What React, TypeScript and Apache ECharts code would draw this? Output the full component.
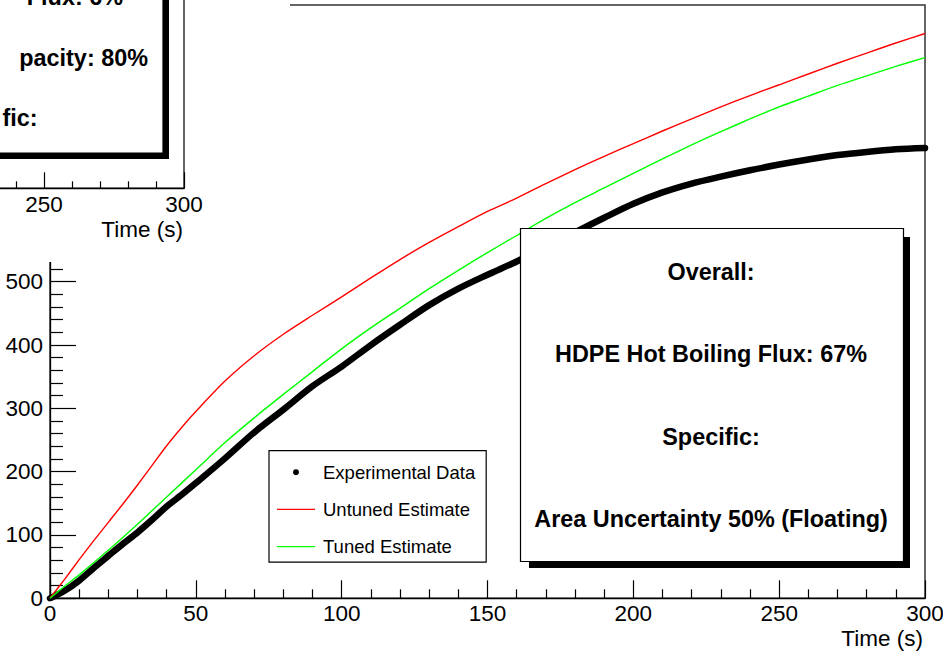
import React, { useEffect, useRef } from "react";
import * as echarts from "echarts";

// ---- data ----
const xTicksMain = [0, 50, 100, 150, 200, 250, 300];
const expTime = [0, 5, 10, 15, 20, 25, 30, 35, 40, 45, 50, 60, 70, 80, 90, 100, 110, 120, 130, 140, 150, 160, 170, 180, 190, 200, 210, 220, 230, 240, 250, 260, 270, 280, 290, 300];
const expValues = [0, 12, 28, 48, 67, 86, 104, 124, 145, 163, 182, 221, 262, 298, 335, 366, 400, 432, 463, 489, 511, 532, 555, 578, 601, 623, 641, 655, 666, 676, 685, 693, 700, 705, 709, 711];
const untunedTime = [0, 5, 10, 15, 20, 25, 30, 35, 40, 45, 50, 60, 70, 80, 90, 100, 110, 120, 130, 140, 150, 160, 170, 180, 190, 200, 210, 220, 230, 240, 250, 260, 270, 280, 290, 300];
const untunedValues = [0, 30, 61, 91, 120, 149, 179, 210, 241, 269, 295, 343, 383, 417, 447, 476, 506, 535, 562, 587, 611, 632, 655, 677, 698, 718, 738, 757, 776, 794, 811, 828, 845, 861, 877, 892];
const tunedTime = [0, 5, 10, 20, 30, 40, 50, 60, 70, 80, 90, 100, 110, 120, 130, 140, 150, 160, 170, 180, 190, 200, 210, 220, 230, 240, 250, 260, 270, 280, 290, 300];
const tunedValues = [0, 19, 37, 76, 117, 160, 203, 246, 285, 322, 358, 394, 427, 458, 489, 518, 546, 573, 600, 625, 648, 671, 694, 716, 737, 757, 776, 793, 810, 825, 840, 854];
const seriesNames = ["Experimental Data", "Untuned Estimate", "Tuned Estimate"];
const seriesColors = ["#000000", "#ff0000", "#00ff00"];
const mainBoxLines = ["Overall:", "HDPE Hot Boiling Flux: 67%", "Specific:", "Area Uncertainty 50% (Floating)"];
const insetBoxLines = ["Flux: 6%", "pacity: 80%", "fic:"];
const xAxisTitle = "Time (s)";
const yMax = 937;
const yLabelMax = 500;
const insetLabelMin = 250;

const FONT = "Liberation Sans";
const LINE_ICON = "path://M0,0H38V1.4H0Z";

const zip = (t: number[], v: number[]) => t.map((x, i) => [x, v[i]]);

export default function App() {
  const ref = useRef<HTMLDivElement>(null);
  useEffect(() => {
    const chart = echarts.init(ref.current!, null, { renderer: "svg" });
    const axisText = { fontFamily: FONT, fontSize: 22.5, color: "#000" };
    const boxText = (text: string, x: number, y: number, align: string, z: number) => ({
      type: "text",
      x,
      y,
      z,
      silent: true,
      style: {
        text,
        fill: "#000",
        fontFamily: FONT,
        fontWeight: "bold",
        fontSize: 23.4,
        textAlign: align,
        textVerticalAlign: "middle",
        align,
        verticalAlign: "middle",
      },
    });
    const option: any = {
      animation: false,
      backgroundColor: "#fff",
      grid: [
        {
          left: 50,
          right: 18,
          top: 5,
          bottom: 55.7,
          show: true,
          borderColor: "#333",
          borderWidth: 1.5,
          containLabel: false,
          outerBoundsMode: "none",
        },
        {
          left: -656,
          right: 759,
          top: -400,
          bottom: 465.7,
          show: true,
          borderColor: "#333",
          borderWidth: 1.5,
          containLabel: false,
          outerBoundsMode: "none",
          z: 60,
        },
      ],
      xAxis: [
        {
          type: "value",
          gridIndex: 0,
          min: xTicksMain[0],
          max: xTicksMain[xTicksMain.length - 1],
          interval: 50,
          axisLine: { lineStyle: { color: "#000", width: 1.3 } },
          axisTick: { inside: true, length: 18, lineStyle: { color: "#000", width: 1.2 } },
          minorTick: { show: true, splitNumber: 5, length: 9, lineStyle: { color: "#000", width: 1.2 } },
          splitLine: { show: false },
          axisLabel: { ...axisText, margin: 4 },
          name: xAxisTitle,
          nameLocation: "end",
          nameGap: -2,
          nameTextStyle: { ...axisText, align: "right", verticalAlign: "top", padding: [29, 0, 0, 0] },
        },
        {
          type: "value",
          gridIndex: 1,
          min: 0,
          max: 300,
          interval: 50,
          z: 60,
          axisLine: { lineStyle: { color: "#000", width: 1.3 } },
          axisTick: { inside: true, length: 16, lineStyle: { color: "#000", width: 1.2 } },
          minorTick: { show: true, splitNumber: 5, length: 7, lineStyle: { color: "#000", width: 1.2 } },
          splitLine: { show: false },
          axisLabel: {
            ...axisText,
            margin: 5,
            formatter: (v: number) => (v >= insetLabelMin ? String(v) : ""),
          },
          name: xAxisTitle,
          nameLocation: "end",
          nameGap: -1,
          nameTextStyle: { ...axisText, align: "right", verticalAlign: "top", padding: [30, 0, 0, 0] },
        },
      ],
      yAxis: [
        {
          type: "value",
          gridIndex: 0,
          min: 0,
          max: yMax,
          interval: 100,
          axisLine: { show: true, lineStyle: { color: "#000", width: 1.3 } },
          axisTick: { show: true, inside: true, length: 26, lineStyle: { color: "#000", width: 1.2 } },
          minorTick: { show: true, splitNumber: 5, length: 13, lineStyle: { color: "#000", width: 1.2 } },
          splitLine: { show: false },
          axisLabel: {
            ...axisText,
            margin: 7,
            showMaxLabel: false,
            formatter: (v: number) => (v <= yLabelMax ? String(v) : ""),
          },
        },
        { type: "value", gridIndex: 1, show: false, min: 0, max: 1 },
      ],
      legend: {
        orient: "vertical",
        left: 269,
        top: 450.7,
        itemWidth: 38,
        itemHeight: 6,
        itemGap: 18.2,
        padding: [12, 11, 6, 8],
        borderColor: "#000",
        borderWidth: 1.2,
        backgroundColor: "#fff",
        textStyle: { fontFamily: FONT, fontSize: 18.5, color: "#000", padding: [0, 0, 0, 3] },
        data: [
          { name: seriesNames[0], icon: "circle", itemStyle: { color: seriesColors[0] } },
          { name: seriesNames[1], icon: LINE_ICON, itemStyle: { color: seriesColors[1] } },
          { name: seriesNames[2], icon: LINE_ICON, itemStyle: { color: seriesColors[2] } },
        ],
      },
      series: [
        {
          name: seriesNames[0],
          type: "line",
          xAxisIndex: 0,
          yAxisIndex: 0,
          data: zip(expTime, expValues),
          symbol: "none",
          smooth: 0.3,
          color: seriesColors[0],
          lineStyle: { color: seriesColors[0], width: 6.5, cap: "round", join: "round" },
          z: 3,
        },
        {
          name: seriesNames[1],
          type: "line",
          xAxisIndex: 0,
          yAxisIndex: 0,
          data: zip(untunedTime, untunedValues),
          symbol: "none",
          smooth: 0.3,
          color: seriesColors[1],
          lineStyle: { color: seriesColors[1], width: 1.4 },
          z: 4,
        },
        {
          name: seriesNames[2],
          type: "line",
          xAxisIndex: 0,
          yAxisIndex: 0,
          data: zip(tunedTime, tunedValues),
          symbol: "none",
          smooth: 0.3,
          color: seriesColors[2],
          lineStyle: { color: seriesColors[2], width: 1.4 },
          z: 4,
        },
      ],
      graphic: [
        // main text box with shadow
        { type: "rect", z: 40, silent: true, shape: { x: 529, y: 237, width: 381, height: 331 }, style: { fill: "#000" } },
        { type: "rect", z: 41, silent: true, shape: { x: 520.5, y: 228.5, width: 383, height: 333 }, style: { fill: "#fff", stroke: "#000", lineWidth: 1.2 } },
        boxText(mainBoxLines[0], 711, 272, "center", 42),
        boxText(mainBoxLines[1], 711, 353.5, "center", 42),
        boxText(mainBoxLines[2], 711, 436.5, "center", 42),
        boxText(mainBoxLines[3], 711, 518.5, "center", 42),
        // overlapping inset pad
        { type: "rect", z: 50, silent: true, shape: { x: 0, y: 0, width: 290, height: 262 }, style: { fill: "#fff" } },
        { type: "rect", z: 70, silent: true, shape: { x: -100, y: -100, width: 269, height: 259 }, style: { fill: "#000" } },
        { type: "rect", z: 71, silent: true, shape: { x: -110, y: -110, width: 273, height: 263 }, style: { fill: "#fff", stroke: "#000", lineWidth: 1.2 } },
        boxText(insetBoxLines[0], 123, -3, "right", 72),
        boxText(insetBoxLines[1], 148, 57.5, "right", 72),
        boxText(insetBoxLines[2], 37.5, 117.5, "right", 72),
      ],
    };
    chart.setOption(option);
    return () => chart.dispose();
  }, []);
  return (
    <div
      ref={ref}
      style={{ position: "fixed", left: 0, top: 0, width: 943, height: 654, background: "#fff" }}
    />
  );
}
